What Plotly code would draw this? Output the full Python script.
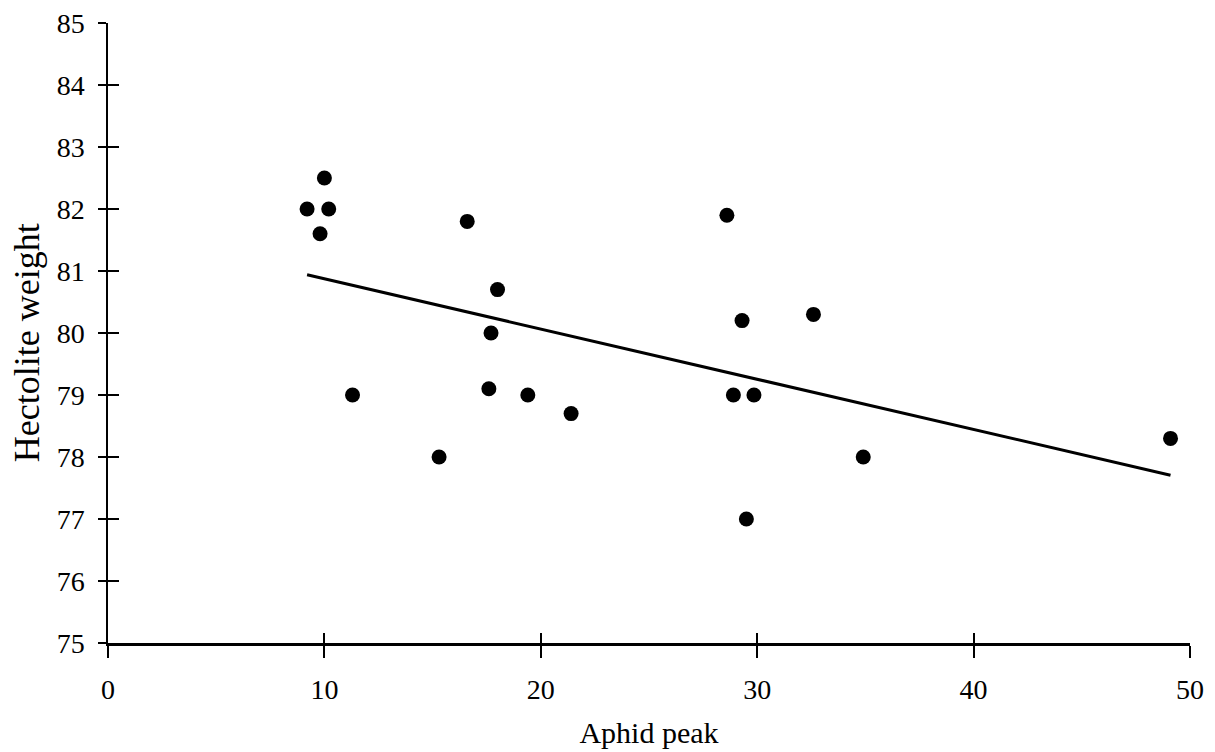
import numpy as np
import plotly.graph_objects as go

# Data
aphid_peak = [9.2, 10.0, 10.2, 9.8, 11.3, 15.3, 16.6, 18.0, 17.7, 17.6,
              19.4, 21.4, 28.6, 29.3, 28.9, 29.5, 29.85, 32.6, 34.9, 49.1]
hectolite_weight = [82.0, 82.5, 82.0, 81.6, 79.0, 78.0, 81.8, 80.7, 80.0, 79.1,
                    79.0, 78.7, 81.9, 80.2, 79.0, 77.0, 79.0, 80.3, 78.0, 78.3]

x_ticks = [0, 10, 20, 30, 40, 50]
y_ticks = [75, 76, 77, 78, 79, 80, 81, 82, 83, 84, 85]

# Linear regression fit
slope, intercept = np.polyfit(aphid_peak, hectolite_weight, 1)
fit_x = np.array([min(aphid_peak), max(aphid_peak)])
fit_y = slope * fit_x + intercept

FONT = "Liberation Serif"

fig = go.Figure()
fig.add_trace(go.Scatter(
    x=fit_x, y=fit_y, mode="lines",
    line=dict(color="black", width=3), hoverinfo="skip", showlegend=False))
fig.add_trace(go.Scatter(
    x=aphid_peak, y=hectolite_weight, mode="markers",
    marker=dict(color="black", size=15), showlegend=False))
# helper trace for the overlaid tick axes (inside ticks)
fig.add_trace(go.Scatter(
    x=[x_ticks[0]], y=[y_ticks[0]], xaxis="x2", yaxis="y2", mode="markers",
    marker=dict(opacity=0), hoverinfo="skip", showlegend=False))

fig.update_layout(
    template="none",
    width=1215, height=752,
    margin=dict(l=108, r=25, t=23, b=109, autoexpand=False),
    paper_bgcolor="white", plot_bgcolor="white",
    font=dict(family=FONT, color="black", size=28),
    xaxis=dict(
        range=[0, 50], tickvals=x_ticks, showgrid=False, zeroline=False,
        automargin=False,
        showline=True, linecolor="black", linewidth=2.5,
        ticks="outside", ticklen=12, tickwidth=2, tickcolor="black",
        ticklabelstandoff=8,
        tickfont=dict(family=FONT, size=28),
        title=dict(text="Aphid peak", font=dict(family=FONT, size=30), standoff=18),
    ),
    yaxis=dict(
        range=[75, 85], tickvals=y_ticks, showgrid=False, zeroline=False,
        automargin=False,
        showline=True, linecolor="black", linewidth=1.5,
        ticks="outside", ticklen=8, tickwidth=1.5, tickcolor="black",
        ticklabelstandoff=8,
        tickfont=dict(family=FONT, size=28),
    ),
    xaxis2=dict(
        range=[0, 50], tickvals=x_ticks, overlaying="x", anchor="y", side="bottom",
        automargin=False,
        showgrid=False, zeroline=False, showline=False, showticklabels=False,
        ticks="inside", ticklen=10, tickwidth=2, tickcolor="black",
    ),
    yaxis2=dict(
        range=[75, 85], tickvals=y_ticks, overlaying="y", anchor="x", side="left",
        automargin=False,
        showgrid=False, zeroline=False, showline=False, showticklabels=False,
        ticks="inside", ticklen=11, tickwidth=1.5, tickcolor="black",
    ),
    annotations=[dict(
        text="Hectolite weight", textangle=-90, showarrow=False,
        xref="paper", yref="paper", x=-0.075, y=0.485,
        xanchor="center", yanchor="middle",
        font=dict(family=FONT, size=36, color="black"),
    )],
)

fig.write_html(
    "out.html",
    config={"displayModeBar": False},
    post_script="document.body.style.margin='0';document.body.style.overflow='hidden';",
)
